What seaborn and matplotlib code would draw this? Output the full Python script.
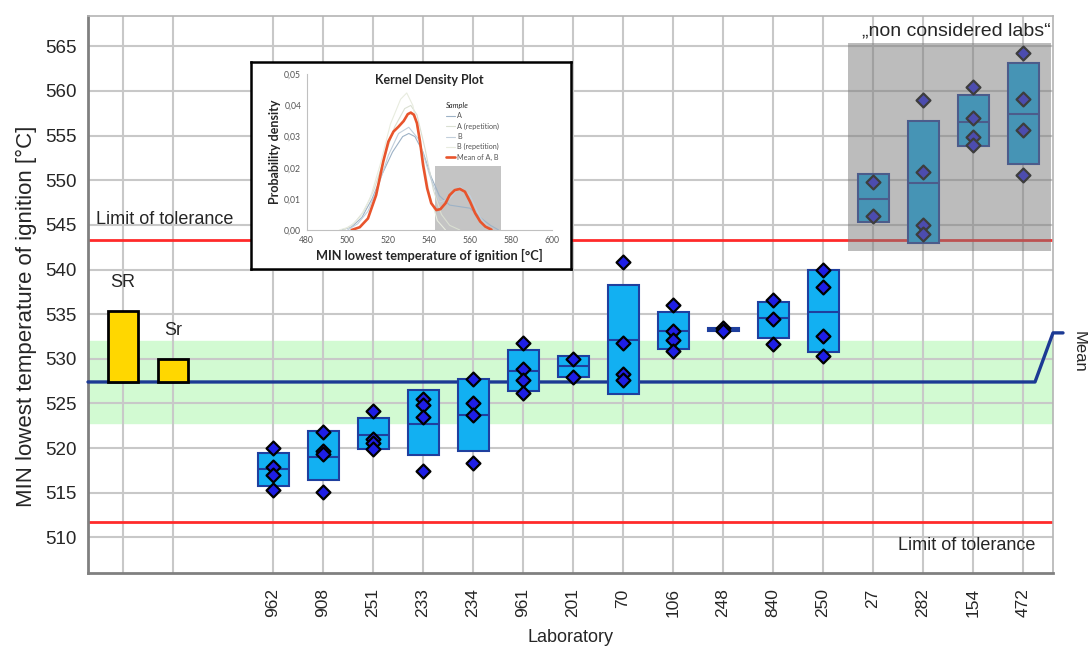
import matplotlib
matplotlib.use("Agg")
import matplotlib.pyplot as plt
import matplotlib.patches as mpatches
import seaborn as sns
import pandas as pd

# --- data --------------------------------------------------------------
labs = ["962", "908", "251", "233", "234", "961", "201", "70", "106", "248",
        "840", "250", "27", "282", "154", "472"]
box_low = [515.8, 516.4, 519.9, 519.2, 519.7, 526.4, 528.0, 526.1, 531.1, 533.1,
           532.3, 530.8, 545.3, 543.0, 553.8, 551.8]
box_med = [517.7, 519.0, 521.5, 522.7, 523.7, 528.6, 529.2, 532.1, 533.1, 533.3,
           534.6, 535.2, 547.9, 549.7, 556.5, 557.4]
box_high = [519.4, 521.9, 523.4, 526.5, 527.7, 531.0, 530.3, 538.3, 535.2, 533.5,
            536.4, 539.9, 550.7, 556.6, 559.5, 563.1]
lab_points = [
    [520.0, 517.9, 517.0, 515.3],
    [521.8, 519.7, 519.3, 515.1],
    [524.1, 521.0, 520.6, 519.9],
    [525.5, 524.8, 523.5, 517.4],
    [527.7, 525.1, 523.7, 518.3],
    [531.8, 528.9, 527.6, 526.2],
    [530.0, 528.0],
    [540.8, 531.8, 528.3, 527.6],
    [536.0, 533.1, 532.1, 530.9],
    [533.5, 533.1],
    [536.6, 534.4, 531.6],
    [540.0, 538.0, 532.6, 530.3],
    [549.8, 546.0],
    [559.0, 550.9, 545.0, 544.0],
    [560.5, 557.0, 554.8, 554.0],
    [564.2, 559.1, 555.6, 550.6],
]
n_considered = 12

mean_val = 527.4
sr_top = 535.3
sr_small_top = 530.0
band_low, band_high = 522.8, 532.0
tol_low, tol_high = 511.7, 543.3
mean_marker_val = 532.9
gray_low, gray_high = 542.1, 565.4

# kernel density inset
kde_mean_x = [502, 506, 510, 514, 517.5, 520, 522.5, 525, 527.5, 529.5, 531, 532.5,
              534, 535.5, 537, 539, 541, 543.5, 545.5, 548, 550, 552.5, 555, 557.5,
              560, 562.5, 565, 567.5, 570.5]
kde_mean_y = [0, 0.0009, 0.0037, 0.0112, 0.022, 0.0284, 0.0316, 0.0332, 0.035, 0.0372,
              0.0377, 0.037, 0.0343, 0.0284, 0.0209, 0.0134, 0.0086, 0.0064, 0.0067,
              0.0086, 0.0112, 0.0128, 0.0132, 0.0123, 0.0091, 0.0054, 0.0027, 0.0011,
              0.0001]
kde_a_x = [497, 502, 507, 512, 517, 522, 527, 530, 533, 537, 541, 545, 550, 555, 560,
           565, 570, 574]
kde_a_y = [0, 0.001, 0.004, 0.010, 0.018, 0.025, 0.030, 0.031, 0.030, 0.025, 0.017,
           0.011, 0.008, 0.0075, 0.007, 0.004, 0.0015, 0]
kde_arep_x = [498, 503, 508, 513, 518, 523, 528, 531, 534, 538, 542, 546, 550, 555]
kde_arep_y = [0, 0.002, 0.006, 0.013, 0.023, 0.033, 0.039, 0.040, 0.037, 0.026, 0.013,
              0.005, 0.0015, 0]
kde_b_x = [500, 505, 510, 515, 520, 525, 530, 535, 540, 545, 550, 555, 560, 565, 570]
kde_b_y = [0, 0.002, 0.006, 0.014, 0.024, 0.031, 0.033, 0.029, 0.018, 0.009, 0.010,
           0.014, 0.011, 0.004, 0]
kde_brep_x = [496, 501, 506, 511, 516, 521, 526, 529, 532, 536, 540, 544, 548]
kde_brep_y = [0, 0.001, 0.004, 0.010, 0.021, 0.034, 0.042, 0.044, 0.040, 0.027, 0.012,
              0.003, 0]
kde_gray_from, kde_gray_to, kde_gray_top = 543, 575, 0.0207

# --- style ---------------------------------------------------------------
sns.set_theme(style="white")
plt.rcParams["font.family"] = ["Liberation Sans", "DejaVu Sans"]

BOX_FILL = "#12B0F2"
BOX_EDGE = "#1F3F9E"
DIAMOND = "#1E1EE6"
NAVY = "#1C3A94"
RED = "#FF2A2A"
GRID = "#C8C8C8"
INSET_FONT = ["Lato", "DejaVu Sans"]

fig = plt.figure(figsize=(10.88, 6.47), dpi=100)
ax = fig.add_axes([88 / 1088, 1 - 573 / 647, (1053 - 88) / 1088, (573 - 16) / 647])

# x positions: SR, Sr, gap, then labs
lab_x = [3 + i for i in range(len(labs))]
xticks = [0, 1] + lab_x
xlabels = ["", ""] + labs

ax.set_xlim(-0.7, 18.6)
ax.set_ylim(506.0, 568.4)

ax.axhspan(band_low, band_high, color="#D2FAD2", zorder=0)
ax.set_xticks(xticks)
ax.set_xticklabels(xlabels, rotation=90, fontsize=12.5)
ax.set_yticks(range(510, 570, 5))
ax.tick_params(axis="y", labelsize=13.5, length=7, width=1.5, color="#808080", pad=1)
ax.tick_params(axis="x", length=7, width=1.5, color="#808080", pad=4)
ax.grid(True, color=GRID, linewidth=1.5, zorder=1)
ax.set_axisbelow(True)
for side in ["left", "bottom"]:
    ax.spines[side].set_color("#808080")
    ax.spines[side].set_linewidth(2)
for side in ["top", "right"]:
    ax.spines[side].set_color("#B4B4B4")
    ax.spines[side].set_linewidth(1.2)

ax.axhline(tol_high, color=RED, linewidth=2, zorder=2)
ax.axhline(tol_low, color=RED, linewidth=2, zorder=2)

# mean line with the little step at the right end
x_right = ax.get_xlim()[1]
ax.plot([ax.get_xlim()[0], x_right - 0.36, x_right, x_right + 0.2],
        [mean_val, mean_val, mean_marker_val, mean_marker_val],
        color=NAVY, linewidth=2.4, zorder=3, clip_on=False)
ax.text(x_right + 0.52, 530.8, "Mean", rotation=270, fontsize=12,
        va="center", ha="center")

# SR / Sr bars
ax.bar([0, 1], [sr_top - mean_val, sr_small_top - mean_val], bottom=mean_val,
       width=0.6, color="#FFD700", edgecolor="black", linewidth=2, zorder=4)
ax.text(0, 538.6, "SR", fontsize=13, ha="center", va="center")
ax.text(1, 533.2, "Sr", fontsize=13, ha="center", va="center")

# lab boxes
heights = [max(h - l, 0.15) for l, h in zip(box_low, box_high)]
ax.bar(lab_x, heights, bottom=box_low, width=0.62, color=BOX_FILL,
       edgecolor=BOX_EDGE, linewidth=1.5, zorder=4)
ax.hlines(box_med, [x - 0.31 for x in lab_x], [x + 0.31 for x in lab_x],
          color=BOX_EDGE, linewidth=1.5, zorder=5)

pts = pd.DataFrame(
    [(x, v) for x, vals in zip(lab_x, lab_points) for v in vals],
    columns=["x", "value"],
)
sns.scatterplot(data=pts, x="x", y="value", marker="D", s=50, color=DIAMOND,
                edgecolor="black", linewidth=1.6, zorder=6, ax=ax, legend=False)

# grey overlay for the non considered labs
first_nc = lab_x[n_considered]
ax.add_patch(mpatches.Rectangle((first_nc - 0.5, gray_low), x_right - 0.05 - (first_nc - 0.5),
                                gray_high - gray_low, color="#7A7A7A", alpha=0.5,
                                linewidth=0, zorder=7))
ax.text(x_right - 0.05, 566.7, "\u201enon considered labs\u201c", fontsize=14,
        ha="right", va="center")

ax.text(-0.55, 545.6, "Limit of tolerance", fontsize=13, ha="left", va="center")
ax.text(18.25, 509.1, "Limit of tolerance", fontsize=13, ha="right", va="center")

ax.set_xlabel("Laboratory", fontsize=13, labelpad=8)
ax.set_ylabel("MIN lowest temperature of ignition [\u00b0C]", fontsize=16)
ax.yaxis.set_label_coords(-0.053, 0.46)

# --- inset: kernel density plot ------------------------------------------
frame = fig.add_axes([251 / 1088, 1 - 269 / 647, (571 - 251) / 1088, (269 - 62) / 647])
frame.set_facecolor("white")
frame.set_xticks([])
frame.set_yticks([])
for s in frame.spines.values():
    s.set_color("black")
    s.set_linewidth(1.8)
frame.set_zorder(10)

inset = fig.add_axes([306.7 / 1088, 1 - 230 / 647, 245 / 1088, 155.7 / 647])
inset.set_zorder(11)
inset.patch.set_alpha(0)
inset.add_patch(mpatches.Rectangle((kde_gray_from, 0), kde_gray_to - kde_gray_from,
                                   kde_gray_top, color="#C4C4C4", linewidth=0, zorder=1))
curves = [
    ("A", kde_a_x, kde_a_y, "#9DB2C6", 0.8),
    ("A (repetition)", kde_arep_x, kde_arep_y, "#DADFD2", 0.8),
    ("B", kde_b_x, kde_b_y, "#C2CFDB", 0.8),
    ("B (repetition)", kde_brep_x, kde_brep_y, "#E8ECDF", 0.8),
    ("Mean of A, B", kde_mean_x, kde_mean_y, "#E8542C", 1.9),
]
for name, cx, cy, col, lw in curves:
    sns.lineplot(x=cx, y=cy, color=col, linewidth=lw, ax=inset, label=name, zorder=3)

inset.set_xlim(480, 600)
inset.set_ylim(0, 0.05)
inset.set_xticks(range(480, 601, 20))
inset.set_yticks([0, 0.01, 0.02, 0.03, 0.04, 0.05])
inset.set_yticklabels(["0,00", "0,01", "0,02", "0,03", "0,04", "0,05"])
inset.tick_params(labelsize=6.2, colors="#555555", length=2, width=0.6, pad=2)
for t in inset.get_xticklabels() + inset.get_yticklabels():
    t.set_family(INSET_FONT)
for side in ["top", "right"]:
    inset.spines[side].set_visible(False)
for side in ["left", "bottom"]:
    inset.spines[side].set_color("#C0C0C0")
    inset.spines[side].set_linewidth(0.8)
inset.set_title("Kernel Density Plot", fontsize=9, fontweight="bold",
                family=INSET_FONT, pad=0, y=0.94)
inset.set_ylabel("Probability density", fontsize=9, fontweight="bold",
                 family=INSET_FONT, labelpad=2)
inset.set_xlabel("MIN lowest temperature of ignition [\u00b0C]", fontsize=9.2,
                 fontweight="bold", family=INSET_FONT, labelpad=3)
leg = inset.legend(title="Sample", loc="upper left", bbox_to_anchor=(0.555, 0.84),
                   frameon=False, prop={"family": INSET_FONT, "size": 5.2},
                   title_fontproperties={"family": INSET_FONT, "size": 5.4,
                                         "style": "italic"},
                   handlelength=1.3, handletextpad=0.3, labelspacing=0.45,
                   borderaxespad=0, alignment="left")
for t in leg.get_texts():
    t.set_color("#555555")

fig.savefig("out.png", dpi=100)
